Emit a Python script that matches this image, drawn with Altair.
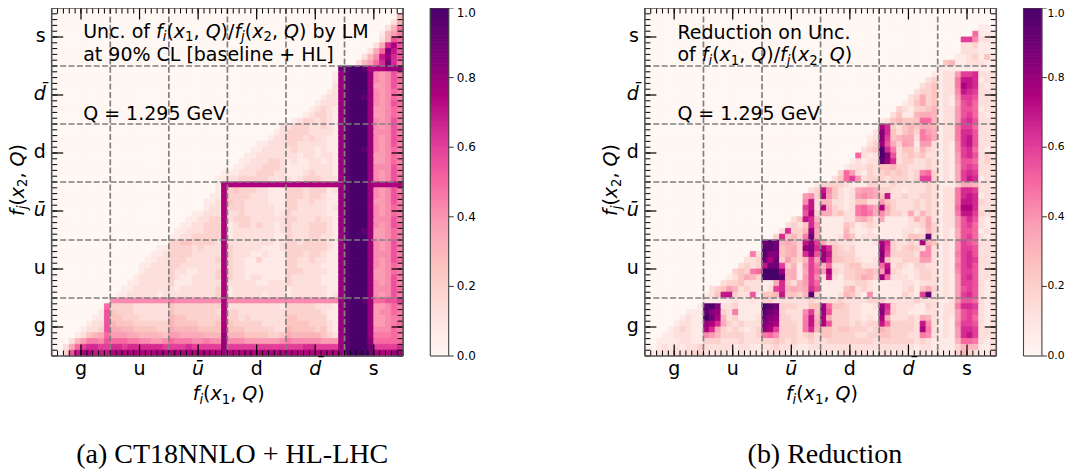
import altair as alt
import pandas as pd

# Cell values, one string per row from top (r=59) to bottom (r=0); rows are right-aligned on column 59.
A_ROWS = [
"", "f", "cg", "cfk", "bfhj", "cflk", "cgnpl", "cgkrol", "cfioqnl", "cfhknsnj",
"s tuutpppqqq",
"bq tuuuqihilj",
"bq tuuuqihilk",
"cq tuuuqhhilj",
"bcq tuuuqihikj",
"bccq tuutqihikj",
"bcccq tuuuqihilk",
"bcdcbq tuuuqhhikj",
"bcddcbq tuuuqhhikj",
"bcddcdcbq tuuuqihilj",
"c cdddccdcbq tuuuqihilj",
"bc ddddccccbq tuuuqiiilj",
"bcc dddcdccbbq tuuuqihilk",
"bbccc ddcccccbbq tuuuqihilj",
"bbcccc cdcccbcbbq tuutqihikj",
"bbccccc ccbccbccbq tuuuqhhikj",
"bbcccddc bcbbccbcbq tuuuqhhikj",
"bbcccdddc bbbbccccbq tuuuqiiilj",
"b bbcccdddcc bbbcdcccbq tuuuqihilj",
"bb ccdddddccc cbcdddcccq tuuuqihilj",
"bp pppppppppp pppppppppq tuuuqppppp",
"bp dedddccbbb dddcdddbcq tuuuqihilj",
"bbp ddddcccbbb dddcddcbbq tuuuqihilk",
"bbcp eddccccbbb ddccdccbbq tuuuqhhilj",
"bccp dddcccccbb ddcccccbcq tuuuqihikj",
"bbcccp ccdcccccbc dccccccbbq tuuuqihikj",
"bbccddp cdddcccccc ddcccdccbq tuuuqiiilj",
"bbccdddp bcddcdccbc dcccdddcbq tuuuqihilk",
"bbcccdddp bcccccccbc dcccdddcbq tuutqhhikj",
"bbccdddddp bcccccccbb dcccddccbq tuuuqhhikj",
"ddeeddddcp ccccccccbc ddcddddcbq tuuuqihilj",
"bb ddddcdcccp dcccccbbbc dddddddcbq tuuuqihilj",
"bbc ddddcccccp dcccbbcbbb dddcddcbbq tuuuqiiilj",
"bbcc dddcccccdp dccbbdbbbb ddccdccbbq tuuuqihilk",
"bbccc ddcccccccp dccbbbbbbb ddccccbbbq tuuuqihikj",
"bcccc dccbbcccdp dccbbbbbbb dddccccbbq tuuuqhhikj",
"bccccc dcbbccccdp dccbccbbbb dcccccbbbq tuuuqhhilj",
"bbccccc dbbbcccccp cccccbbccc dcccccbbbq tuuuqihilj",
"bbcccccc cbccccccdp bccccccccc bccccccbbq tuuuqiiilk",
"bbcccccbc ccccccccdp bcccccbccc bccccccbcq tuuuqihilj",
"iiiiiiiiii jiiiiiiiip iiiiiiiiii iiiiiiiiiq tuutqkkllm",
"k ddddcccccc eddddddddp cccccccccb dddddcccbq tuuuqhhikj",
"bl edddcccccc edddddddcp ddcccccccc ddddddcbbq tuuuqhiikj",
"bbl eedddccccc feeddddddp ddcdcccccc eedddddbbq tuuuqhhijj",
"bccl feeedddddd feeeedddep edddddcccc eeeedddcbq tuuuqhhijk",
"bccdl ggffeeeedd gffffeeeep eeedddddcc feeeedecbq tuuuqiiikj",
"bcefgk hhhggffffe hhggggfffq fffeeeedde gfffffedcq tuuuqjjjkj",
"cfhjjil kkkjjiihhi kjjjiijiiq iiihhhhhhi jiiiiihhhq tuuurkkkkk",
"cgkmnnmm nnmnnnnnnm mmmnmmmmmq mmmmmmmmmm mmmnnmmmmq tuuusmmmmn",
"dloppooo pppppppppp pppppppppq pppppppppp pppppppppq tuuuspppqq",
]

B_ROWS = [
"", "", "", "bb.", "kbbb", "mmiccb", "ccdbbb", "cccbbb", "bbcdbeb", "efbbcccbb",
"bbbbbbbbbb",
"b bcchmmnccc",
"cd bccjoonbcc",
"cde bccjponcbc",
"cdde bccionmccc",
"cdgde bcbhmmlccc",
"bcegde bcbglmkccc",
"dcbddef bcchllkbcc",
"cebbfggf bcchlmkcbc",
"bcefeeekkf bcchmnlccc",
"pndcefeggf bccjmmkccc",
"c rnecefdjhg bccjnnlccc",
"bc rmefggcjig bccjnolccc",
"cd qlgdhgbhhc bcbinolccc",
"cde unjceecfdc bcbimnkcbc",
"kcbc urlcdedecc bcbhmnlcdc",
"bcbcc tqncddccdc bcbhllkcdc",
"bcccdc eefddcccdc bcbglmlccc",
"dkhcbdc dededcdjkd bcbgmnmccc",
"cekmhcdd dcdddcdmmd bcbgmonbcc",
"b ddddcbbbdd ccdcccccdc bbbdggfccb",
"cd oiecbcghhg ddccbcccdc bccjnnmccc",
"hid phecbchihg eoccdccddc bccjnonbcc",
"ioc ffccbceecc hedcccdcdc bccjoondcc",
"moc pgdcbcjkig pgdcccdcdc bcckppnccc",
"lpd ggdeccjkjg ifddcgcfdc bccjoomdcc",
"ceonf bbbbccfgec gbbbbcfdgc bcchlnlcbc",
"cdcenh bbbbedbcdc bbbbbccdgd bcchlmkcbc",
"cnddfqg bbbbfcbbcb bbbbccbcfd bcbgllkbcc",
"dnefdjsg bbbcgebccc bbbbceedtc bcbglmkcbc",
"stsfgfdoqm gddcccbbbc pndccdcpfe bcbimlkccc",
"ttsefgdqrn pnedcdbbbb qmdcdedcic bcbimmlccc",
"jc trrefgdnql qoedddbbbb rlddddciic bcbjmnlccc",
"ccd spsdhedfmh qneeddcbbc qeccdddhhc bcbimnmccc",
"cdcd ossmdfbhmj fkccdeeccc kocdcbddcc bcbjmnlccc",
"dedjk uuuqfgbgmk hpdcddeefe hpdcbbcddc bcbimmlccc",
"bcegfd uuutfgbhmi cocbddegfd qkcccbcddc bcbhmnlccc",
"cddeccc bbgnecfhmk bbbbccddcb bbbbccbccc bcbhmmlcbc",
"cdehfcdcc bcmnfgfgnl bbbbefcdcb bbbbcdbegd bcbhlmlcbc",
"bceoodcclb eefoeedftd bbbcfecbib bbbbdcbmtc bcbhmnlcbc",
"bbbbbcbbcb ddccccccdc cccdccccdd dcccccdccc bbchllkcbc",
"b turccdbbbb utsdddccee qkeedccbbc qndcccbbdc bccjnnmcbc",
"bbb trqdcjbbbb tsrdcccime qldddccbbb rmdccbbbcc bcchlmlcbc",
"bcbb uspfcdbbbc srqddccjof pgdddccbcb pgcccdcgfc bcbhlmkcbc",
"bccbb qpngdcdccc rqpdddcjog pldddcdcdd okddddcoic bcbimmlcbc",
"bcdcbb pngdcdcbcd qpmdddcjnf eedeedddcd feddddcpjc bcbhnnmccc",
"bbcccbb ihfddddccd jkidddcdec eeddddccdd eedddccjic bcbhnomccc",
"bbbbccbb dddcccdccc ddedcdccdc cddddddddc ddddddcdcb bbbfkkjcbc",
"bcbcbccd cccccbccbb ccdcccbbcc cccccccccc ccccccbccb bbbdfffbbc",
"bccccccdd cbccbbcbbb bcccbbbbbb ccbcccccbb ccbcbbbcbb bbbdfdcbbc",
]

# Value of each letter used in the rows above ('.' is an empty cell).
LEVELS = {".": 0.0, "a": 0.0, "b": 0.07, "c": 0.13, "d": 0.19, "e": 0.25, "f": 0.30, "g": 0.34, "h": 0.38,
          "i": 0.42, "j": 0.46, "k": 0.50, "l": 0.55, "m": 0.60, "n": 0.65, "o": 0.70, "p": 0.75,
          "q": 0.80, "r": 0.85, "s": 0.90, "t": 0.95, "u": 1.0}

GROUPS = ["g", "u", "ū", "d", "d\u0304", "s"]
GROUP_POS = [5, 15, 25, 35, 45, 55]
BOUNDARIES = [10, 20, 30, 40, 50]
CBAR_TICKS = [0.0, 0.2, 0.4, 0.6, 0.8, 1.0]
CMAP_STOPS = [0, .125, .25, .375, .5, .625, .75, .875, 1]
CMAP = ["#fff7f3", "#fde0dd", "#fcc5c0", "#fa9fb5", "#f768a1", "#dd3497", "#ae017e", "#7a0177", "#49006a"]

W, H = 351.4, 348
CW = 18.4
SP = 26.6
FS = 19
color_scale = alt.Scale(domain=CMAP_STOPS, range=CMAP, interpolate="rgb")
x_scale = alt.Scale(domain=[0, 60], nice=False, zero=False)
y_scale = alt.Scale(domain=[0, 60], nice=False, zero=False)

ADV = {"U": .732, "n": .634, "c": .55, ".": .318, " ": .318, "o": .612, "f": .352, "i": .278, "j": .278,
       "(": .39, ")": .39, "x": .592, "1": .636, "2": .636, ",": .318, "Q": .787, "/": .337, "R": .695,
       "e": .615, "d": .635, "u": .634, "t": .392}


def run(parts, x0, y0, size=FS, rot=False):
    """parts: (text, kind), kind n=normal, i=italic, si=sub italic, sn=sub normal."""
    rows, adv = [], 0.0
    for text, kind in parts:
        sub = kind.startswith("s")
        s = size * (0.7 if sub else 1)
        off = 0.2 * size if sub else 0
        if rot:
            px, py = x0 + off, y0 - adv
        else:
            px, py = x0 + adv, y0 + off
        rows.append(dict(px=px, py=py, t=text, s=s, a=270 if rot else 0,
                         st="italic" if kind in ("i", "si") else "normal"))
        adv += sum(ADV.get(ch, .6) for ch in text) * s
    return rows


def F(sub_i, sub_x):
    return [("f", "i"), (sub_i, "si"), ("(", "n"), ("x", "i"), (sub_x, "sn"), (", ", "n"), ("Q", "i"), (")", "n")]


def text_layers(rows):
    df = pd.DataFrame(rows)
    df = df[df.t.str.strip() != ""]
    out = []
    for st in ("normal", "italic"):
        sub = df[df.st == st]
        if len(sub):
            out.append(alt.Chart(sub).mark_text(align="left", baseline="alphabetic", font="DejaVu Sans",
                                                fontStyle=st, color="black").encode(
                x=alt.X("px:Q", scale=None, axis=None), y=alt.Y("py:Q", scale=None, axis=None),
                text="t:N", size=alt.Size("s:Q", scale=None, legend=None),
                angle=alt.Angle("a:Q", scale=None, legend=None)))
    return out


def heat(rows_in, rows_text, caption, cap_x):
    rec = []
    for i, row in enumerate(rows_in):
        row = row.replace(" ", "").rjust(60, ".")[:60]
        for c, ch in enumerate(row):
            rec.append(dict(c=c, c2=c + 1, r=59 - i, r2=60 - i, v=LEVELS[ch]))
    base = alt.Chart(pd.DataFrame(rec)).mark_rect(strokeWidth=0.9).encode(
        x=alt.X("c:Q", scale=x_scale, axis=None), x2="c2:Q",
        y=alt.Y("r:Q", scale=y_scale, axis=None), y2="r2:Q",
        color=alt.Color("v:Q", scale=color_scale, legend=None),
        stroke=alt.Color("v:Q", scale=color_scale, legend=None))
    bd = pd.DataFrame({"b": BOUNDARIES})
    dash = dict(color="#808080", strokeWidth=1.7, strokeDash=[6, 2.4])
    gv = alt.Chart(bd).mark_rule(**dash).encode(x=alt.X("b:Q", scale=x_scale, axis=None),
                                                y=alt.value(0), y2=alt.value(H))
    gh = alt.Chart(bd).mark_rule(**dash).encode(y=alt.Y("b:Q", scale=y_scale, axis=None),
                                                x=alt.value(0), x2=alt.value(W))
    layers = [base, gv, gh]
    minor = pd.DataFrame({"t": list(range(0, 61))})
    major = pd.DataFrame({"t": GROUP_POS})
    for df, ln, sw in ((minor, 5.5, 1.0), (major, 11.5, 1.2)):
        m = alt.Chart(df).mark_rule(color="black", strokeWidth=sw)
        xe = alt.X("t:Q", scale=x_scale, axis=None)
        ye = alt.Y("t:Q", scale=y_scale, axis=None)
        layers += [
            m.encode(x=xe, y=alt.value(H), y2=alt.value(H - ln)),
            m.encode(x=xe, y=alt.value(0), y2=alt.value(ln)),
            m.encode(y=ye, x=alt.value(0), x2=alt.value(ln)),
            m.encode(y=ye, x=alt.value(W), x2=alt.value(W - ln)),
        ]
    spine = alt.Chart(pd.DataFrame({"k": [0]})).mark_rule(color="#555555", strokeWidth=1.6)
    layers += [
        spine.encode(x=alt.value(0), y=alt.value(0), y2=alt.value(H)),
        spine.encode(x=alt.value(W), y=alt.value(0), y2=alt.value(H)),
        spine.encode(y=alt.value(0), x=alt.value(0), x2=alt.value(W)),
        spine.encode(y=alt.value(H), x=alt.value(0), x2=alt.value(W)),
    ]
    lab = pd.DataFrame({"t": GROUP_POS, "g": GROUPS})
    for st, gs in (("normal", ["g", "u", "d", "s"]), ("italic", ["ū", "d\u0304"])):
        sub = lab[lab.g.isin(gs)]
        layers.append(alt.Chart(sub).mark_text(fontSize=FS, fontStyle=st, font="DejaVu Sans", color="black",
                                               baseline="alphabetic").encode(
            x=alt.X("t:Q", scale=x_scale, axis=None), y=alt.value(366.5), text="g:N"))
        layers.append(alt.Chart(sub).mark_text(fontSize=FS, fontStyle=st, font="DejaVu Sans", color="black",
                                               align="right", baseline="middle", dy=-1).encode(
            y=alt.Y("t:Q", scale=y_scale, axis=None), x=alt.value(-6), text="g:N"))
    layers += text_layers(rows_text)
    cap = alt.Chart(pd.DataFrame({"t": [caption]})).mark_text(
        font="Liberation Serif", fontSize=28, align="center", baseline="alphabetic", color="black").encode(
        x=alt.value(cap_x), y=alt.value(455), text="t:N")
    layers.append(cap)
    return alt.layer(*layers).properties(width=W, height=H)


def colorbar(panel_w, lab_dx=8, lab_fs=12):
    vals = [i / 100 for i in range(100)]
    df = pd.DataFrame({"v": vals, "v2": [v + 0.01 for v in vals], "m": [v + 0.005 for v in vals]})
    ys = alt.Scale(domain=[0, 1], nice=False, zero=False)
    rect = alt.Chart(df).mark_rect(strokeWidth=0.8).encode(
        x=alt.value(0), x2=alt.value(CW),
        y=alt.Y("v:Q", scale=ys, axis=None),
        y2="v2:Q",
        color=alt.Color("m:Q", scale=color_scale, legend=None),
        stroke=alt.Color("m:Q", scale=color_scale, legend=None))
    tk = pd.DataFrame({"v": CBAR_TICKS, "t": [f"{v:.1f}" for v in CBAR_TICKS]})
    ticks = alt.Chart(tk).mark_rule(color="#333333", strokeWidth=1).encode(
        y=alt.Y("v:Q", scale=ys, axis=None), x=alt.value(CW), x2=alt.value(CW + 5))
    labs = alt.Chart(tk[tk.v < 1]).mark_text(fontSize=lab_fs, font="DejaVu Sans", color="black", align="left",
                                             baseline="middle").encode(
        y=alt.Y("v:Q", scale=ys, axis=None), x=alt.value(CW + lab_dx), text="t:N")
    top = alt.Chart(tk[tk.v == 1]).mark_text(fontSize=lab_fs, font="DejaVu Sans", color="black", align="left",
                                             baseline="top").encode(
        y=alt.Y("v:Q", scale=ys, axis=None), x=alt.value(CW + lab_dx), text="t:N")
    fr = alt.Chart(pd.DataFrame({"k": [0]})).mark_rule(color="#444444", strokeWidth=1.1)
    return alt.layer(
        rect, ticks, labs, top,
        fr.encode(x=alt.value(0), y=alt.value(0), y2=alt.value(H)),
        fr.encode(x=alt.value(CW), y=alt.value(0), y2=alt.value(H)),
        fr.encode(y=alt.value(0), x=alt.value(0), x2=alt.value(CW)),
        fr.encode(y=alt.value(H), x=alt.value(0), x2=alt.value(CW)),
    ).properties(width=panel_w, height=H)


ratio = F("i", "1") + [("/", "n")] + F("j", "2")
TEXT_A = (run([("Unc. of ", "n")] + ratio + [(" ", "n"), ("by LM", "n")], 31.5, 29.5)
          + run([("at 90% CL [baseline + HL]", "n")], 31.5, 53)
          + run([("Q = 1.295 GeV", "n")], 31.5, 111.5)
          + run(F("i", "1"), 141, 392)
          + run(F("j", "2"), -28, 208, rot=True))
TEXT_B = (run([("Reduction on Unc.", "n")], 32.5, 31)
          + run([("of ", "n")] + ratio, 32.5, 53)
          + run([("Q = 1.295 GeV", "n")], 32.5, 111.5)
          + run(F("i", "1"), 141, 392)
          + run(F("j", "2"), -28, 208, rot=True))

p1 = heat(A_ROWS, TEXT_A, "(a) CT18NNLO + HL-LHC", 180.5)
p2 = heat(B_ROWS, TEXT_B, "(b) Reduction", 180)
# The colour-bar panel is wide enough to leave the gap in front of the next heat map.
chart = alt.hconcat(p1, colorbar(643.3 - 429.3 - SP), p2, colorbar(CW + 20, lab_dx=5.6, lab_fs=10.8),
                    spacing=SP, bounds="flush").properties(
    autosize=alt.AutoSizeParams(type="none"),
    padding={"left": 43.7, "top": 0, "right": 1013, "bottom": 460},
    background="white",
).configure_view(stroke=None)
chart.save("out.html", embed_options={"renderer": "svg", "actions": False})
